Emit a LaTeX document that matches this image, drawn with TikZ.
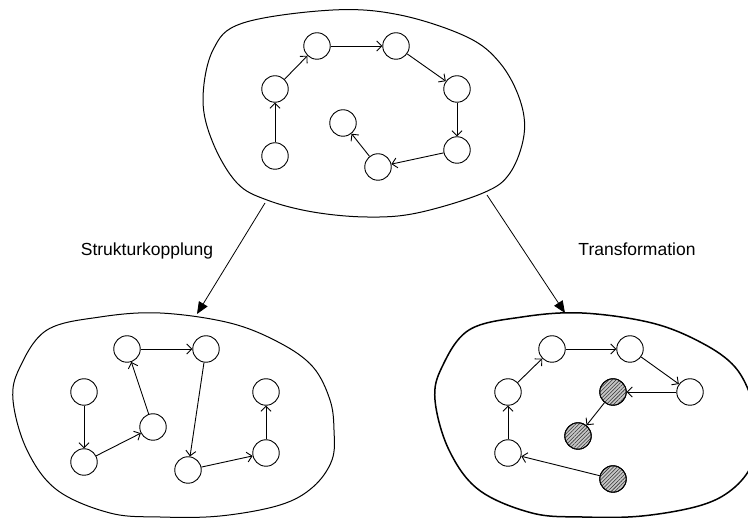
\documentclass[tikz,border=0pt]{standalone}
\usepackage{fontspec}
\setmainfont{Liberation Sans}
\usetikzlibrary{arrows.meta,patterns.meta}
\begin{document}
\begin{tikzpicture}[x=1pt,y=-1pt,
  state/.style={circle,draw,line width=0.9pt,minimum size=26.5pt,inner sep=0pt},
  hatched/.style={state,fill=gray!45,
    postaction={pattern={Lines[angle=45,distance=2.6pt,line width=0.55pt]},pattern color=black!80},
    postaction={draw,line width=0.9pt}},
  link/.style={line width=0.9pt,-{Straight Barb[length=5pt,width=10pt,line width=0.9pt]}},
  mapping/.style={line width=0.8pt,-{Triangle[length=12pt,width=10pt]}},
  blob/.style={line width=1pt},
  caption/.style={font=\fontsize{17.5}{20}\selectfont,anchor=base}]
\clip (0,0) rectangle (748,518);
\useasboundingbox (0,0) rectangle (748,518);

% system outlines
\draw[blob] plot[smooth cycle,tension=0.6] coordinates {
  (333,10) (400,15) (467,37) (500,63) (520,100) (524,135) (510,173)
  (483,193) (417,213) (367,217) (313,212) (267,200) (237,183)
  (213,143) (203,100) (213,50) (243,23)};
\draw[blob] plot[smooth cycle,tension=0.6] coordinates {
  (160,313) (230,323) (280,343) (313,367) (330,400) (334,430) (332,460)
  (313,487) (280,505) (220,516) (160,517) (110,513) (57,490) (27,450)
  (13,400) (20,367) (47,330) (100,317)};
\begin{scope}[xshift=422pt]
\draw[blob,line width=1.5pt] plot[smooth cycle,tension=0.6] coordinates {
  (160,313) (230,323) (280,343) (313,367) (330,400) (334,430) (332,460)
  (313,487) (280,505) (220,516) (160,517) (110,513) (57,490) (27,450)
  (13,400) (20,367) (47,330) (100,317)};
\end{scope}

% original system
\node[state] (a1) at (275,156) {};
\node[state] (a2) at (275,89) {};
\node[state] (a3) at (317,46) {};
\node[state] (a4) at (396,46) {};
\node[state] (a5) at (457,89) {};
\node[state] (a6) at (457,150) {};
\node[state] (a7) at (378,167) {};
\node[state] (a8) at (343,123) {};
\draw[link] (a1) -- (a2);
\draw[link] (a2) -- (a3);
\draw[link] (a3) -- (a4);
\draw[link] (a4) -- (a5);
\draw[link] (a5) -- (a6);
\draw[link] (a6) -- (a7);
\draw[link] (a7) -- (a8);

% structural coupling
\node[state] (b1) at (84,392) {};
\node[state] (b2) at (84,462) {};
\node[state] (b3) at (153,427) {};
\node[state] (b4) at (127,349) {};
\node[state] (b5) at (206,349) {};
\node[state] (b6) at (188,470) {};
\node[state] (b7) at (266,453) {};
\node[state] (b8) at (266,392) {};
\draw[link] (b1) -- (b2);
\draw[link] (b2) -- (b3);
\draw[link] (b3) -- (b4);
\draw[link] (b4) -- (b5);
\draw[link] (b5) -- (b6);
\draw[link] (b6) -- (b7);
\draw[link] (b7) -- (b8);

% transformation
\node[state] (c1) at (508,453) {};
\node[state] (c2) at (508,392) {};
\node[state] (c3) at (552,349) {};
\node[state] (c4) at (630,349) {};
\node[state] (c5) at (690,392) {};
\node[hatched] (c6) at (613,392) {};
\node[hatched] (c7) at (578,436) {};
\node[hatched] (c8) at (613,479) {};
\draw[link] (c1) -- (c2);
\draw[link] (c2) -- (c3);
\draw[link] (c3) -- (c4);
\draw[link] (c4) -- (c5);
\draw[link] (c5) -- (c6);
\draw[link] (c6) -- (c7);
\draw[link] (c8) -- (c1);

% mappings between the systems
\coordinate (sl) at (265,203);
\coordinate (tl) at (197,314);
\coordinate (sr) at (487,195);
\coordinate (tr) at (565,313);
\draw[mapping] (sl) -- (tl);
\draw[mapping] (sr) -- (tr);
\node[caption] (lab1) at (147,256) {Strukturkopplung};
\node[caption] (lab2) at (637,256) {Transformation};
\end{tikzpicture}
\end{document}
